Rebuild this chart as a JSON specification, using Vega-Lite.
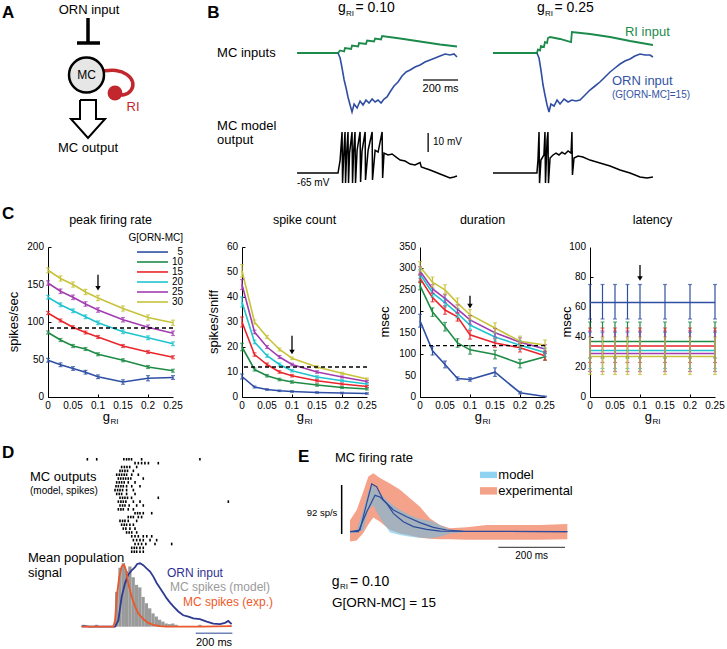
{
"$schema": "https://vega.github.io/schema/vega-lite/v6.json",
"padding": 0,
"background": "white",
"spacing": 0,
"config": {
  "font": "Liberation Sans",
  "view": {"stroke": null},
  "axis": {"domainColor": "black", "domainWidth": 1, "tickColor": "black", "tickSize": 3, "tickWidth": 1, "labelColor": "black", "labelFontSize": 10, "labelPadding": 2, "labelFlush": false, "labelOverlap": false, "grid": false, "titleColor": "black", "titleFontSize": 13, "titleFontWeight": "normal", "titlePadding": 6},
  "text": {"color": "black", "fontSize": 13}
},
"datasets": {
  "one": [{}],
  "xt": [{"v":0,"l":"0"},{"v":0.05,"l":"0.05"},{"v":0.1,"l":"0.1"},{"v":0.15,"l":"0.15"},{"v":0.2,"l":"0.2"},{"v":0.25,"l":"0.25"}],
  "yt1": [{"v":0},{"v":50},{"v":100},{"v":150},{"v":200}],
  "yt2": [{"v":0},{"v":10},{"v":20},{"v":30},{"v":40},{"v":50},{"v":60}],
  "yt3": [{"v":0},{"v":50},{"v":100},{"v":150},{"v":200},{"v":250},{"v":300},{"v":350}],
  "yt4": [{"v":0},{"v":20},{"v":40},{"v":60},{"v":80},{"v":100}],
  "ri_arc": [{"i":0,"x":10.3,"y":7.1},{"i":1,"x":11.6,"y":6.95},{"i":2,"x":12.8,"y":7.4},{"i":3,"x":13.4,"y":8.2},{"i":4,"x":13.2,"y":9.1},{"i":5,"x":12.4,"y":9.6},{"i":6,"x":11.5,"y":9.4}],
  "arrow": [{"i":0,"x":8.0,"y":10.0},{"i":1,"x":9.6,"y":10.0},{"i":2,"x":9.6,"y":11.9},{"i":3,"x":10.5,"y":11.9},{"i":4,"x":8.8,"y":13.8},{"i":5,"x":7.1,"y":11.9},{"i":6,"x":8.0,"y":11.9},{"i":7,"x":8.0,"y":10.0}],
  "b1_ri": [{"t":0,"v":0},{"t":234,"v":0},{"t":246,"v":0.25},{"t":269,"v":0.15},{"t":274,"v":0.5},{"t":309,"v":0.4},{"t":314,"v":0.75},{"t":349,"v":0.65},{"t":354,"v":1.0},{"t":394,"v":0.9},{"t":400,"v":1.25},{"t":440,"v":1.15},{"t":446,"v":1.45},{"t":480,"v":1.35},{"t":486,"v":1.7},{"t":589,"v":1.45},{"t":703,"v":1.15},{"t":817,"v":0.85},{"t":914,"v":0.65}],
  "b1_orn": [{"t":234,"v":0},{"t":246,"v":-0.5},{"t":257,"v":-1.5},{"t":269,"v":-2.7},{"t":280,"v":-3.5},{"t":291,"v":-4.4},{"t":303,"v":-5.2},{"t":314,"v":-5.9},{"t":326,"v":-5.1},{"t":343,"v":-5.5},{"t":360,"v":-4.8},{"t":377,"v":-5.2},{"t":394,"v":-4.7},{"t":411,"v":-5.0},{"t":429,"v":-4.6},{"t":446,"v":-4.9},{"t":463,"v":-4.7},{"t":480,"v":-5.0},{"t":497,"v":-4.6},{"t":514,"v":-4.4},{"t":531,"v":-3.9},{"t":554,"v":-3.3},{"t":577,"v":-2.9},{"t":600,"v":-2.3},{"t":623,"v":-1.9},{"t":646,"v":-1.7},{"t":674,"v":-1.4},{"t":703,"v":-1.2},{"t":731,"v":-0.9},{"t":760,"v":-0.7},{"t":789,"v":-0.5},{"t":817,"v":-0.3},{"t":846,"v":-0.1},{"t":874,"v":-0.2},{"t":897,"v":-0.1},{"t":914,"v":-0.4}],
  "b1_out": [{"t":0,"v":-65},{"t":234,"v":-65},{"t":246,"v":-58.2},{"t":257,"v":-43.4},{"t":260,"v":-70.3},{"t":266,"v":-56.6},{"t":274,"v":-43.4},{"t":277,"v":-70.3},{"t":283,"v":-55},{"t":291,"v":-43.4},{"t":294,"v":-70.3},{"t":300,"v":-54.5},{"t":314,"v":-43.4},{"t":317,"v":-70.3},{"t":323,"v":-54},{"t":331,"v":-43.4},{"t":334,"v":-70.3},{"t":343,"v":-53},{"t":360,"v":-43.4},{"t":363,"v":-69.7},{"t":371,"v":-53.5},{"t":389,"v":-43.4},{"t":391,"v":-68.7},{"t":406,"v":-53},{"t":429,"v":-43.4},{"t":431,"v":-68.7},{"t":446,"v":-53},{"t":463,"v":-54},{"t":486,"v":-43.4},{"t":489,"v":-67.6},{"t":497,"v":-54.5},{"t":520,"v":-55.5},{"t":543,"v":-55},{"t":566,"v":-56.6},{"t":589,"v":-58.2},{"t":617,"v":-58.7},{"t":646,"v":-60.3},{"t":674,"v":-60.8},{"t":703,"v":-59.5},{"t":710,"v":-61.8},{"t":731,"v":-62.5},{"t":760,"v":-63.4},{"t":789,"v":-64.5},{"t":817,"v":-65.5},{"t":846,"v":-66.6},{"t":874,"v":-67.6},{"t":897,"v":-67.1},{"t":914,"v":-66.6}],
  "b2_ri": [{"t":0,"v":0},{"t":251,"v":0},{"t":257,"v":0.35},{"t":269,"v":0.25},{"t":274,"v":0.7},{"t":291,"v":0.6},{"t":297,"v":1.1},{"t":309,"v":1.0},{"t":314,"v":1.5},{"t":326,"v":1.6},{"t":383,"v":1.4},{"t":446,"v":1.1},{"t":451,"v":2.1},{"t":554,"v":1.9},{"t":669,"v":1.6},{"t":783,"v":1.2},{"t":914,"v":0.8}],
  "b2_orn": [{"t":251,"v":0},{"t":263,"v":-0.5},{"t":274,"v":-1.7},{"t":286,"v":-3.2},{"t":297,"v":-4.2},{"t":309,"v":-5.2},{"t":320,"v":-5.9},{"t":331,"v":-5.1},{"t":349,"v":-5.3},{"t":366,"v":-4.7},{"t":383,"v":-5.1},{"t":406,"v":-4.6},{"t":429,"v":-4.9},{"t":451,"v":-4.7},{"t":474,"v":-4.8},{"t":497,"v":-4.7},{"t":526,"v":-4.2},{"t":554,"v":-3.7},{"t":583,"v":-3.3},{"t":611,"v":-2.9},{"t":640,"v":-2.4},{"t":669,"v":-1.9},{"t":697,"v":-1.5},{"t":726,"v":-1.1},{"t":754,"v":-0.8},{"t":783,"v":-0.6},{"t":811,"v":-0.3},{"t":840,"v":-0.1},{"t":869,"v":-0.2},{"t":897,"v":-0.2},{"t":914,"v":-0.4}],
  "b2_out": [{"t":0,"v":-65},{"t":251,"v":-65},{"t":257,"v":-58.2},{"t":263,"v":-43.4},{"t":266,"v":-70.3},{"t":274,"v":-58.2},{"t":291,"v":-55.5},{"t":297,"v":-43.4},{"t":300,"v":-70.3},{"t":309,"v":-47.6},{"t":314,"v":-43.4},{"t":317,"v":-70.3},{"t":326,"v":-57.1},{"t":343,"v":-55.5},{"t":360,"v":-54.5},{"t":377,"v":-55.5},{"t":394,"v":-54},{"t":411,"v":-55},{"t":429,"v":-53.4},{"t":446,"v":-54.5},{"t":451,"v":-43.4},{"t":454,"v":-66},{"t":463,"v":-57.1},{"t":486,"v":-56.1},{"t":514,"v":-56.6},{"t":554,"v":-58.2},{"t":611,"v":-59.7},{"t":669,"v":-61.3},{"t":726,"v":-63.4},{"t":783,"v":-65},{"t":840,"v":-67.1},{"t":880,"v":-67.6},{"t":914,"v":-67.1}],
  "c1": [
    {"G":5,"g":0,"v":49,"lo":46.5,"hi":51.5},{"G":5,"g":0.025,"v":43,"lo":40.5,"hi":45.5},{"G":5,"g":0.05,"v":38,"lo":35.5,"hi":40.5},{"G":5,"g":0.075,"v":33,"lo":30.5,"hi":35.5},{"G":5,"g":0.1,"v":27,"lo":24.5,"hi":29.5},{"G":5,"g":0.15,"v":20,"lo":17,"hi":23},{"G":5,"g":0.2,"v":25,"lo":21.5,"hi":28.5},{"G":5,"g":0.25,"v":26,"lo":23.5,"hi":28.5},
    {"G":10,"g":0,"v":86,"lo":84,"hi":88},{"G":10,"g":0.025,"v":76,"lo":74,"hi":78},{"G":10,"g":0.05,"v":68,"lo":66,"hi":70},{"G":10,"g":0.075,"v":64,"lo":62,"hi":66},{"G":10,"g":0.1,"v":57,"lo":55,"hi":59},{"G":10,"g":0.15,"v":49,"lo":47,"hi":51},{"G":10,"g":0.2,"v":40,"lo":38,"hi":42},{"G":10,"g":0.25,"v":35,"lo":33,"hi":37},
    {"G":15,"g":0,"v":112,"lo":110,"hi":114},{"G":15,"g":0.025,"v":102,"lo":100,"hi":104},{"G":15,"g":0.05,"v":93,"lo":91,"hi":95},{"G":15,"g":0.075,"v":86,"lo":84,"hi":88},{"G":15,"g":0.1,"v":80,"lo":78,"hi":82},{"G":15,"g":0.15,"v":68,"lo":66,"hi":70},{"G":15,"g":0.2,"v":60,"lo":58,"hi":62},{"G":15,"g":0.25,"v":53,"lo":51,"hi":55},
    {"G":20,"g":0,"v":133,"lo":130.5,"hi":135.5},{"G":20,"g":0.025,"v":123,"lo":120.5,"hi":125.5},{"G":20,"g":0.05,"v":115,"lo":112.5,"hi":117.5},{"G":20,"g":0.075,"v":107,"lo":104.5,"hi":109.5},{"G":20,"g":0.1,"v":99,"lo":96.5,"hi":101.5},{"G":20,"g":0.15,"v":87,"lo":84.5,"hi":89.5},{"G":20,"g":0.2,"v":79,"lo":76.5,"hi":81.5},{"G":20,"g":0.25,"v":71,"lo":68.5,"hi":73.5},
    {"G":25,"g":0,"v":152,"lo":149,"hi":155},{"G":25,"g":0.025,"v":141,"lo":138,"hi":144},{"G":25,"g":0.05,"v":133,"lo":130,"hi":136},{"G":25,"g":0.075,"v":124,"lo":121,"hi":127},{"G":25,"g":0.1,"v":116,"lo":113,"hi":119},{"G":25,"g":0.15,"v":103,"lo":100,"hi":106},{"G":25,"g":0.2,"v":93,"lo":90,"hi":96},{"G":25,"g":0.25,"v":85,"lo":82,"hi":88},
    {"G":30,"g":0,"v":169,"lo":165.5,"hi":172.5},{"G":30,"g":0.025,"v":158,"lo":154.5,"hi":161.5},{"G":30,"g":0.05,"v":150,"lo":146.5,"hi":153.5},{"G":30,"g":0.075,"v":140,"lo":136.5,"hi":143.5},{"G":30,"g":0.1,"v":132,"lo":128.5,"hi":135.5},{"G":30,"g":0.15,"v":118,"lo":114.5,"hi":121.5},{"G":30,"g":0.2,"v":106,"lo":102.5,"hi":109.5},{"G":30,"g":0.25,"v":99,"lo":95.5,"hi":102.5}
  ],
  "c2": [
    {"G":5,"g":0,"v":8.2,"lo":7.2,"hi":9.2},{"G":5,"g":0.025,"v":4,"lo":3.6,"hi":4.4},{"G":5,"g":0.05,"v":3,"lo":2.7,"hi":3.3},{"G":5,"g":0.075,"v":2.5,"lo":2.2,"hi":2.8},{"G":5,"g":0.1,"v":2.2,"lo":1.9,"hi":2.5},{"G":5,"g":0.15,"v":1.8,"lo":1.5,"hi":2.1},{"G":5,"g":0.2,"v":1.6,"lo":1.3,"hi":1.9},{"G":5,"g":0.25,"v":1.4,"lo":1.1,"hi":1.7},
    {"G":10,"g":0,"v":20,"lo":18.5,"hi":21.5},{"G":10,"g":0.025,"v":11,"lo":10.4,"hi":11.6},{"G":10,"g":0.05,"v":8.5,"lo":8,"hi":9},{"G":10,"g":0.075,"v":7,"lo":6.5,"hi":7.5},{"G":10,"g":0.1,"v":6,"lo":5.5,"hi":6.5},{"G":10,"g":0.15,"v":4.8,"lo":4.3,"hi":5.3},{"G":10,"g":0.2,"v":3.8,"lo":3.4,"hi":4.2},{"G":10,"g":0.25,"v":3.2,"lo":2.8,"hi":3.6},
    {"G":15,"g":0,"v":30,"lo":28,"hi":32},{"G":15,"g":0.025,"v":17,"lo":16.3,"hi":17.7},{"G":15,"g":0.05,"v":13,"lo":12.4,"hi":13.6},{"G":15,"g":0.075,"v":10,"lo":9.5,"hi":10.5},{"G":15,"g":0.1,"v":8.5,"lo":8,"hi":9},{"G":15,"g":0.15,"v":6.5,"lo":6,"hi":7},{"G":15,"g":0.2,"v":5.2,"lo":4.8,"hi":5.6},{"G":15,"g":0.25,"v":4.2,"lo":3.8,"hi":4.6},
    {"G":20,"g":0,"v":38,"lo":36,"hi":40},{"G":20,"g":0.025,"v":22,"lo":21.3,"hi":22.7},{"G":20,"g":0.05,"v":16.5,"lo":15.9,"hi":17.1},{"G":20,"g":0.075,"v":13,"lo":12.4,"hi":13.6},{"G":20,"g":0.1,"v":10.5,"lo":10,"hi":11},{"G":20,"g":0.15,"v":8,"lo":7.5,"hi":8.5},{"G":20,"g":0.2,"v":6.5,"lo":6.1,"hi":6.9},{"G":20,"g":0.25,"v":5.2,"lo":4.8,"hi":5.6},
    {"G":25,"g":0,"v":45,"lo":43,"hi":47},{"G":25,"g":0.025,"v":26,"lo":25.3,"hi":26.7},{"G":25,"g":0.05,"v":20,"lo":19.4,"hi":20.6},{"G":25,"g":0.075,"v":16,"lo":15.4,"hi":16.6},{"G":25,"g":0.1,"v":13,"lo":12.5,"hi":13.5},{"G":25,"g":0.15,"v":10,"lo":9.5,"hi":10.5},{"G":25,"g":0.2,"v":8,"lo":7.6,"hi":8.4},{"G":25,"g":0.25,"v":6.2,"lo":5.8,"hi":6.6},
    {"G":30,"g":0,"v":50.5,"lo":48,"hi":53},{"G":30,"g":0.025,"v":30,"lo":29.2,"hi":30.8},{"G":30,"g":0.05,"v":24,"lo":23.4,"hi":24.6},{"G":30,"g":0.075,"v":19,"lo":18.4,"hi":19.6},{"G":30,"g":0.1,"v":15.5,"lo":15,"hi":16},{"G":30,"g":0.15,"v":12,"lo":11.5,"hi":12.5},{"G":30,"g":0.2,"v":9.5,"lo":9.1,"hi":9.9},{"G":30,"g":0.25,"v":7.2,"lo":6.8,"hi":7.6}
  ],
  "c3": [
    {"G":5,"g":0,"v":178,"lo":163,"hi":193},{"G":5,"g":0.025,"v":108,"lo":98,"hi":118},{"G":5,"g":0.05,"v":76,"lo":68,"hi":84},{"G":5,"g":0.075,"v":43,"lo":39,"hi":47},{"G":5,"g":0.1,"v":41,"lo":37,"hi":45},{"G":5,"g":0.15,"v":58,"lo":48,"hi":68},{"G":5,"g":0.2,"v":10,"lo":7,"hi":13},{"G":5,"g":0.25,"v":1,"lo":0,"hi":2},
    {"G":10,"g":0,"v":260,"lo":250,"hi":270},{"G":10,"g":0.025,"v":198,"lo":188,"hi":208},{"G":10,"g":0.05,"v":164,"lo":154,"hi":174},{"G":10,"g":0.075,"v":126,"lo":116,"hi":136},{"G":10,"g":0.1,"v":110,"lo":100,"hi":120},{"G":10,"g":0.15,"v":99,"lo":89,"hi":109},{"G":10,"g":0.2,"v":78,"lo":68,"hi":88},{"G":10,"g":0.25,"v":94,"lo":86,"hi":102},
    {"G":15,"g":0,"v":277,"lo":267,"hi":287},{"G":15,"g":0.025,"v":232,"lo":222,"hi":242},{"G":15,"g":0.05,"v":203,"lo":193,"hi":213},{"G":15,"g":0.075,"v":187,"lo":177,"hi":197},{"G":15,"g":0.1,"v":145,"lo":135,"hi":155},{"G":15,"g":0.15,"v":126,"lo":116,"hi":136},{"G":15,"g":0.2,"v":115,"lo":105,"hi":125},{"G":15,"g":0.25,"v":96,"lo":86,"hi":106},
    {"G":20,"g":0,"v":287,"lo":277,"hi":297},{"G":20,"g":0.025,"v":243,"lo":233,"hi":253},{"G":20,"g":0.05,"v":220,"lo":210,"hi":230},{"G":20,"g":0.075,"v":195,"lo":185,"hi":205},{"G":20,"g":0.1,"v":168,"lo":158,"hi":178},{"G":20,"g":0.15,"v":140,"lo":130,"hi":150},{"G":20,"g":0.2,"v":121,"lo":111,"hi":131},{"G":20,"g":0.25,"v":104,"lo":94,"hi":114},
    {"G":25,"g":0,"v":294,"lo":284,"hi":304},{"G":25,"g":0.025,"v":252,"lo":242,"hi":262},{"G":25,"g":0.05,"v":230,"lo":220,"hi":240},{"G":25,"g":0.075,"v":205,"lo":195,"hi":215},{"G":25,"g":0.1,"v":180,"lo":170,"hi":190},{"G":25,"g":0.15,"v":150,"lo":140,"hi":160},{"G":25,"g":0.2,"v":128,"lo":118,"hi":138},{"G":25,"g":0.25,"v":112,"lo":102,"hi":122},
    {"G":30,"g":0,"v":304,"lo":292,"hi":316},{"G":30,"g":0.025,"v":268,"lo":256,"hi":280},{"G":30,"g":0.05,"v":250,"lo":238,"hi":262},{"G":30,"g":0.075,"v":219,"lo":207,"hi":231},{"G":30,"g":0.1,"v":192,"lo":180,"hi":204},{"G":30,"g":0.15,"v":161,"lo":149,"hi":173},{"G":30,"g":0.2,"v":130,"lo":118,"hi":142},{"G":30,"g":0.25,"v":121,"lo":109,"hi":133}
  ],
  "c4": [
    {"G":5,"g":0,"v":63,"lo":52,"hi":75},{"G":5,"g":0.025,"v":63,"lo":52,"hi":75},{"G":5,"g":0.05,"v":63,"lo":52,"hi":75},{"G":5,"g":0.075,"v":63,"lo":52,"hi":75},{"G":5,"g":0.1,"v":63,"lo":52,"hi":75},{"G":5,"g":0.15,"v":63,"lo":52,"hi":75},{"G":5,"g":0.2,"v":63,"lo":52,"hi":75},{"G":5,"g":0.25,"v":63,"lo":52,"hi":75},
    {"G":10,"g":0,"v":37,"lo":26,"hi":50},{"G":10,"g":0.025,"v":37,"lo":26,"hi":50},{"G":10,"g":0.05,"v":37,"lo":26,"hi":50},{"G":10,"g":0.075,"v":37,"lo":26,"hi":50},{"G":10,"g":0.1,"v":37,"lo":26,"hi":50},{"G":10,"g":0.15,"v":37,"lo":26,"hi":50},{"G":10,"g":0.2,"v":37,"lo":26,"hi":50},{"G":10,"g":0.25,"v":37,"lo":26,"hi":50},
    {"G":15,"g":0,"v":34,"lo":23,"hi":46},{"G":15,"g":0.025,"v":34,"lo":23,"hi":46},{"G":15,"g":0.05,"v":34,"lo":23,"hi":46},{"G":15,"g":0.075,"v":34,"lo":23,"hi":46},{"G":15,"g":0.1,"v":34,"lo":23,"hi":46},{"G":15,"g":0.15,"v":34,"lo":23,"hi":46},{"G":15,"g":0.2,"v":34,"lo":23,"hi":46},{"G":15,"g":0.25,"v":34,"lo":23,"hi":46},
    {"G":20,"g":0,"v":31,"lo":19,"hi":43},{"G":20,"g":0.025,"v":31,"lo":19,"hi":43},{"G":20,"g":0.05,"v":31,"lo":19,"hi":43},{"G":20,"g":0.075,"v":31,"lo":19,"hi":43},{"G":20,"g":0.1,"v":31,"lo":19,"hi":43},{"G":20,"g":0.15,"v":31,"lo":19,"hi":43},{"G":20,"g":0.2,"v":31,"lo":19,"hi":43},{"G":20,"g":0.25,"v":31,"lo":19,"hi":43},
    {"G":25,"g":0,"v":29,"lo":17,"hi":44},{"G":25,"g":0.025,"v":29,"lo":17,"hi":44},{"G":25,"g":0.05,"v":29,"lo":17,"hi":44},{"G":25,"g":0.075,"v":29,"lo":17,"hi":44},{"G":25,"g":0.1,"v":29,"lo":17,"hi":44},{"G":25,"g":0.15,"v":29,"lo":17,"hi":44},{"G":25,"g":0.2,"v":29,"lo":17,"hi":44},{"G":25,"g":0.25,"v":29,"lo":17,"hi":44},
    {"G":30,"g":0,"v":27,"lo":15,"hi":40},{"G":30,"g":0.025,"v":27,"lo":15,"hi":40},{"G":30,"g":0.05,"v":27,"lo":15,"hi":40},{"G":30,"g":0.075,"v":27,"lo":15,"hi":40},{"G":30,"g":0.1,"v":27,"lo":15,"hi":40},{"G":30,"g":0.15,"v":27,"lo":15,"hi":40},{"G":30,"g":0.2,"v":27,"lo":15,"hi":40},{"G":30,"g":0.25,"v":27,"lo":15,"hi":40}
  ],
  "raster": [
    {"trial":1,"t":31},{"trial":1,"t":82},{"trial":1,"t":230},{"trial":1,"t":245},{"trial":1,"t":258},{"trial":1,"t":272},{"trial":1,"t":327},{"trial":1,"t":645},
    {"trial":2,"t":291},{"trial":2,"t":309},{"trial":2,"t":327},{"trial":2,"t":345},{"trial":2,"t":364},{"trial":2,"t":418},
    {"trial":3,"t":218},{"trial":3,"t":233},{"trial":3,"t":247},{"trial":3,"t":262},{"trial":3,"t":300},
    {"trial":4,"t":209},{"trial":4,"t":222},{"trial":4,"t":236},{"trial":4,"t":250},{"trial":4,"t":282},
    {"trial":5,"t":191},{"trial":5,"t":205},{"trial":5,"t":218},{"trial":5,"t":232},{"trial":5,"t":245},{"trial":5,"t":273},{"trial":5,"t":309},
    {"trial":6,"t":200},{"trial":6,"t":213},{"trial":6,"t":227},{"trial":6,"t":240},{"trial":6,"t":254},{"trial":6,"t":268},{"trial":6,"t":336},
    {"trial":7,"t":191},{"trial":7,"t":205},{"trial":7,"t":218},{"trial":7,"t":232},{"trial":7,"t":254},{"trial":7,"t":291},
    {"trial":8,"t":187},{"trial":8,"t":200},{"trial":8,"t":214},{"trial":8,"t":227},{"trial":8,"t":245},{"trial":8,"t":273},{"trial":8,"t":318},
    {"trial":9,"t":182},{"trial":9,"t":196},{"trial":9,"t":209},{"trial":9,"t":223},{"trial":9,"t":245},{"trial":9,"t":282},
    {"trial":10,"t":191},{"trial":10,"t":205},{"trial":10,"t":218},{"trial":10,"t":245},{"trial":10,"t":291},
    {"trial":11,"t":209},{"trial":11,"t":223},{"trial":11,"t":236},{"trial":11,"t":250},{"trial":11,"t":272},{"trial":11,"t":418},
    {"trial":12,"t":200},{"trial":12,"t":214},{"trial":12,"t":227},{"trial":12,"t":241},{"trial":12,"t":282},{"trial":12,"t":318},{"trial":12,"t":800},
    {"trial":13,"t":209},{"trial":13,"t":223},{"trial":13,"t":236},{"trial":13,"t":259},{"trial":13,"t":300},{"trial":13,"t":336},
    {"trial":14,"t":200},{"trial":14,"t":214},{"trial":14,"t":227},{"trial":14,"t":254},{"trial":14,"t":282},
    {"trial":15,"t":291},{"trial":15,"t":305},{"trial":15,"t":318},{"trial":15,"t":336},{"trial":15,"t":382},
    {"trial":16,"t":254},{"trial":16,"t":268},{"trial":16,"t":282},{"trial":16,"t":309},{"trial":16,"t":327},
    {"trial":17,"t":209},{"trial":17,"t":223},{"trial":17,"t":236},{"trial":17,"t":254},{"trial":17,"t":300},
    {"trial":18,"t":218},{"trial":18,"t":232},{"trial":18,"t":245},{"trial":18,"t":263},{"trial":18,"t":282},
    {"trial":19,"t":227},{"trial":19,"t":241},{"trial":19,"t":263},{"trial":19,"t":291},
    {"trial":20,"t":245},{"trial":20,"t":259},{"trial":20,"t":273},{"trial":20,"t":300},
    {"trial":21,"t":273},{"trial":21,"t":291},{"trial":21,"t":309},{"trial":21,"t":336},{"trial":21,"t":355},{"trial":21,"t":382},
    {"trial":22,"t":282},{"trial":22,"t":300},{"trial":22,"t":318},{"trial":22,"t":336},{"trial":22,"t":373},{"trial":22,"t":409},
    {"trial":23,"t":291},{"trial":23,"t":309},{"trial":23,"t":327},{"trial":23,"t":350},{"trial":23,"t":400},{"trial":23,"t":491},
    {"trial":24,"t":273},{"trial":24,"t":287},{"trial":24,"t":300},{"trial":24,"t":318},{"trial":24,"t":336},
    {"trial":25,"t":273},{"trial":25,"t":287},{"trial":25,"t":300},{"trial":25,"t":318},{"trial":25,"t":336}
  ],
  "hist": [{"t0":0,"t1":18,"a":0.03},{"t0":72,"t1":90,"a":0.03},{"t0":182,"t1":200,"a":0.55},{"t0":200,"t1":218,"a":0.93},{"t0":218,"t1":236,"a":1.0},{"t0":236,"t1":254,"a":0.88},{"t0":254,"t1":272,"a":0.95},{"t0":272,"t1":290,"a":0.78},{"t0":290,"t1":308,"a":0.66},{"t0":308,"t1":326,"a":0.62},{"t0":326,"t1":344,"a":0.47},{"t0":344,"t1":362,"a":0.37},{"t0":362,"t1":380,"a":0.29},{"t0":380,"t1":398,"a":0.21},{"t0":398,"t1":416,"a":0.16},{"t0":416,"t1":434,"a":0.11},{"t0":434,"t1":452,"a":0.08},{"t0":452,"t1":470,"a":0.05},{"t0":470,"t1":488,"a":0.04},{"t0":488,"t1":506,"a":0.05},{"t0":506,"t1":524,"a":0.03},{"t0":636,"t1":654,"a":0.03},{"t0":800,"t1":818,"a":0.02}],
  "d_orn": [{"t":0,"a":0},{"t":18,"a":0.01},{"t":40,"a":0},{"t":182,"a":0},{"t":200,"a":0.1},{"t":218,"a":0.47},{"t":236,"a":0.68},{"t":254,"a":0.82},{"t":273,"a":0.89},{"t":291,"a":0.94},{"t":303,"a":0.99},{"t":318,"a":1.0},{"t":336,"a":0.97},{"t":354,"a":0.92},{"t":373,"a":0.87},{"t":391,"a":0.79},{"t":409,"a":0.69},{"t":427,"a":0.61},{"t":445,"a":0.53},{"t":463,"a":0.45},{"t":482,"a":0.38},{"t":500,"a":0.32},{"t":527,"a":0.24},{"t":554,"a":0.18},{"t":582,"a":0.16},{"t":609,"a":0.13},{"t":645,"a":0.12},{"t":682,"a":0.08},{"t":718,"a":0.05},{"t":754,"a":0.04},{"t":782,"a":0.06},{"t":800,"a":0.09},{"t":818,"a":0.04}],
  "d_exp": [{"t":0,"a":0},{"t":173,"a":0},{"t":182,"a":0.1},{"t":191,"a":0.47},{"t":205,"a":0.79},{"t":218,"a":0.95},{"t":231,"a":0.98},{"t":242,"a":0.89},{"t":254,"a":0.68},{"t":273,"a":0.47},{"t":291,"a":0.32},{"t":309,"a":0.21},{"t":336,"a":0.12},{"t":363,"a":0.06},{"t":391,"a":0.03},{"t":427,"a":0.01},{"t":463,"a":0},{"t":645,"a":0},{"t":818,"a":0.01}],
  "e_exp": [{"t":0,"lo":-14,"hi":26},{"t":20,"lo":-12,"hi":45},{"t":40,"lo":2,"hi":80},{"t":55,"lo":18,"hi":108},{"t":70,"lo":31,"hi":114},{"t":90,"lo":23,"hi":105},{"t":120,"lo":7.5,"hi":95},{"t":150,"lo":1,"hi":83},{"t":180,"lo":-3,"hi":67},{"t":210,"lo":-7,"hi":51},{"t":240,"lo":-9,"hi":29},{"t":270,"lo":-10,"hi":17},{"t":300,"lo":-10,"hi":11},{"t":350,"lo":-11,"hi":12.5},{"t":410,"lo":-11,"hi":17},{"t":490,"lo":-11,"hi":17},{"t":570,"lo":-11,"hi":17},{"t":652,"lo":-10,"hi":19}],
  "e_model": [{"t":0,"lo":1.3,"hi":4.4},{"t":20,"lo":3,"hi":7.5},{"t":40,"lo":7.5,"hi":45},{"t":55,"lo":45,"hi":80},{"t":70,"lo":54,"hi":92},{"t":90,"lo":30,"hi":76},{"t":120,"lo":3,"hi":58},{"t":150,"lo":-2,"hi":45},{"t":180,"lo":-5,"hi":35},{"t":210,"lo":-7,"hi":28},{"t":240,"lo":-8,"hi":25},{"t":270,"lo":-5,"hi":17},{"t":300,"lo":1,"hi":8},{"t":350,"lo":3.8,"hi":5},{"t":410,"lo":3.8,"hi":5},{"t":490,"lo":3.8,"hi":5},{"t":570,"lo":3.8,"hi":5},{"t":652,"lo":3.8,"hi":5}],
  "e_lines": [{"s":"a","t":0,"r":4.4},{"s":"a","t":30,"r":7.5},{"s":"a","t":50,"r":57.6},{"s":"a","t":65,"r":93.9},{"s":"a","t":80,"r":88.8},{"s":"a","t":100,"r":63.8},{"s":"a","t":130,"r":45},{"s":"a","t":170,"r":32.5},{"s":"a","t":210,"r":21.3},{"s":"a","t":250,"r":12.5},{"s":"a","t":290,"r":7.5},{"s":"a","t":340,"r":5},{"s":"a","t":652,"r":4.4},
    {"s":"b","t":0,"r":4.4},{"s":"b","t":25,"r":4.4},{"s":"b","t":50,"r":41.3},{"s":"b","t":75,"r":72.6},{"s":"b","t":90,"r":69.4},{"s":"b","t":110,"r":57.6},{"s":"b","t":130,"r":38.8},{"s":"b","t":160,"r":23.1},{"s":"b","t":190,"r":13.8},{"s":"b","t":230,"r":8.8},{"s":"b","t":270,"r":5.6},{"s":"b","t":652,"r":4.4}]
},
"vconcat": [
 {"hconcat": [
  {"width": 190, "height": 200, "data": {"name": "one"}, "layer": [
    {"mark": {"type": "rect", "opacity": 0}, "encoding": {"x": {"datum": 0, "scale": {"domain": [0, 19], "nice": false, "zero": false}, "axis": null}, "x2": {"datum": 19}, "y": {"datum": 0, "scale": {"domain": [0, 20], "reverse": true, "nice": false, "zero": false}, "axis": null}, "y2": {"datum": 20}}},
    {"mark": {"type": "text", "text": "A", "fontSize": 17, "fontWeight": "bold", "align": "left"}, "encoding": {"x": {"datum": 0.2, "axis": null}, "y": {"datum": 1.3, "axis": null}}},
    {"mark": {"type": "text", "text": "ORN input"}, "encoding": {"x": {"datum": 8.9, "axis": null}, "y": {"datum": 1.0, "axis": null}}},
    {"mark": {"type": "rule", "strokeWidth": 3.5, "color": "black"}, "encoding": {"x": {"datum": 8.8, "axis": null}, "y": {"datum": 1.8, "axis": null}, "y2": {"datum": 4.3}}},
    {"mark": {"type": "rule", "strokeWidth": 3.5, "color": "black"}, "encoding": {"x": {"datum": 7.7, "axis": null}, "x2": {"datum": 10.0}, "y": {"datum": 4.3, "axis": null}}},
    {"data": {"name": "ri_arc"}, "mark": {"type": "line", "color": "#c1272d", "strokeWidth": 3.5, "interpolate": "basis"}, "encoding": {"x": {"field": "x", "type": "quantitative", "scale": {"domain": [0, 19], "nice": false, "zero": false}, "axis": null}, "y": {"field": "y", "type": "quantitative", "scale": {"domain": [0, 20], "reverse": true, "nice": false, "zero": false}, "axis": null}, "order": {"field": "i"}}},
    {"mark": {"type": "point", "shape": "circle", "size": 1225, "filled": true, "fill": "#e6e6e6", "stroke": "black", "strokeWidth": 2.5, "opacity": 1}, "encoding": {"x": {"datum": 8.65, "axis": null}, "y": {"datum": 7.5, "axis": null}}},
    {"mark": {"type": "text", "text": "MC", "fontSize": 12}, "encoding": {"x": {"datum": 8.65, "axis": null}, "y": {"datum": 7.5, "axis": null}}},
    {"mark": {"type": "point", "shape": "circle", "size": 220, "filled": true, "color": "#c1272d", "opacity": 1}, "encoding": {"x": {"datum": 11.5, "axis": null}, "y": {"datum": 9.3, "axis": null}}},
    {"mark": {"type": "text", "text": "RI", "color": "#c1272d"}, "encoding": {"x": {"datum": 13.3, "axis": null}, "y": {"datum": 10.7, "axis": null}}},
    {"data": {"name": "arrow"}, "mark": {"type": "line", "color": "black", "strokeWidth": 2, "strokeJoin": "miter"}, "encoding": {"x": {"field": "x", "type": "quantitative", "scale": {"domain": [0, 19], "nice": false, "zero": false}, "axis": null}, "y": {"field": "y", "type": "quantitative", "scale": {"domain": [0, 20], "reverse": true, "nice": false, "zero": false}, "axis": null}, "order": {"field": "i"}}},
    {"mark": {"type": "text", "text": "MC output"}, "encoding": {"x": {"datum": 8.8, "axis": null}, "y": {"datum": 14.8, "axis": null}}}
  ]},
  {"width": 281, "height": 200, "data": {"name": "one"}, "resolve": {"scale": {"y": "independent"}}, "layer": [
    {"layer": [
      {"data": {"name": "b1_ri"}, "mark": {"type": "line", "color": "#1b8a4b", "strokeWidth": 1.8}, "encoding": {"x": {"field": "t", "type": "quantitative", "scale": {"domain": [-612, 994], "nice": false, "zero": false}, "axis": null}, "y": {"field": "v", "type": "quantitative", "scale": {"domain": [-14.7, 5.3], "nice": false, "zero": false}, "axis": null}}},
      {"data": {"name": "b1_orn"}, "mark": {"type": "line", "color": "#2f4ea3", "strokeWidth": 1.6}, "encoding": {"x": {"field": "t", "type": "quantitative", "scale": {"domain": [-612, 994], "nice": false, "zero": false}, "axis": null}, "y": {"field": "v", "type": "quantitative", "scale": {"domain": [-14.7, 5.3], "nice": false, "zero": false}, "axis": null}}},
      {"mark": {"type": "text", "text": "B", "fontSize": 17, "fontWeight": "bold", "align": "left"}, "encoding": {"x": {"datum": -514, "axis": null}, "y": {"datum": 4.05, "axis": null}}},
      {"mark": {"type": "text", "text": "g", "fontSize": 14, "align": "left", "baseline": "alphabetic"}, "encoding": {"x": {"datum": 234, "axis": null}, "y": {"datum": 4.13, "axis": null}}},
      {"mark": {"type": "text", "text": "RI", "fontSize": 8, "align": "left", "baseline": "alphabetic"}, "encoding": {"x": {"datum": 280, "axis": null}, "y": {"datum": 3.7, "axis": null}}},
      {"mark": {"type": "text", "text": "= 0.10", "fontSize": 14, "align": "left", "baseline": "alphabetic"}, "encoding": {"x": {"datum": 334, "axis": null}, "y": {"datum": 4.13, "axis": null}}},
      {"mark": {"type": "text", "text": "MC inputs", "align": "left"}, "encoding": {"x": {"datum": -457, "axis": null}, "y": {"datum": 0, "axis": null}}},
      {"mark": {"type": "rule", "color": "#333333", "strokeWidth": 1.5}, "encoding": {"x": {"datum": 720, "axis": null}, "x2": {"datum": 920}, "y": {"datum": -2.7, "axis": null}}},
      {"mark": {"type": "text", "text": "200 ms", "fontSize": 11}, "encoding": {"x": {"datum": 820, "axis": null}, "y": {"datum": -3.6, "axis": null}}}
    ]},
    {"layer": [
      {"data": {"name": "b1_out"}, "mark": {"type": "line", "color": "black", "strokeWidth": 1.5}, "encoding": {"x": {"field": "t", "type": "quantitative", "scale": {"domain": [-612, 994], "nice": false, "zero": false}, "axis": null}, "y": {"field": "v", "type": "quantitative", "scale": {"domain": [-79.2, 26.05], "nice": false, "zero": false}, "axis": null}}},
      {"mark": {"type": "text", "text": "MC model", "align": "left"}, "encoding": {"x": {"datum": -457, "axis": null}, "y": {"datum": -40.3, "axis": null}}},
      {"mark": {"type": "text", "text": "output", "align": "left"}, "encoding": {"x": {"datum": -457, "axis": null}, "y": {"datum": -47.6, "axis": null}}},
      {"mark": {"type": "rule", "color": "black", "strokeWidth": 1.3}, "encoding": {"x": {"datum": 749, "axis": null}, "y": {"datum": -54, "axis": null}, "y2": {"datum": -44}}},
      {"mark": {"type": "text", "text": "10 mV", "fontSize": 10, "align": "left"}, "encoding": {"x": {"datum": 777, "axis": null}, "y": {"datum": -48.5, "axis": null}}},
      {"mark": {"type": "text", "text": "-65 mV", "fontSize": 10, "align": "left"}, "encoding": {"x": {"datum": 0, "axis": null}, "y": {"datum": -70.3, "axis": null}}}
    ]}
  ]},
  {"width": 250, "height": 200, "data": {"name": "one"}, "resolve": {"scale": {"y": "independent"}}, "layer": [
    {"layer": [
      {"data": {"name": "b2_ri"}, "mark": {"type": "line", "color": "#1b8a4b", "strokeWidth": 1.8}, "encoding": {"x": {"field": "t", "type": "quantitative", "scale": {"domain": [-125.7, 1302.9], "nice": false, "zero": false}, "axis": null}, "y": {"field": "v", "type": "quantitative", "scale": {"domain": [-14.7, 5.3], "nice": false, "zero": false}, "axis": null}}},
      {"data": {"name": "b2_orn"}, "mark": {"type": "line", "color": "#2f4ea3", "strokeWidth": 1.6}, "encoding": {"x": {"field": "t", "type": "quantitative", "scale": {"domain": [-125.7, 1302.9], "nice": false, "zero": false}, "axis": null}, "y": {"field": "v", "type": "quantitative", "scale": {"domain": [-14.7, 5.3], "nice": false, "zero": false}, "axis": null}}},
      {"mark": {"type": "text", "text": "g", "fontSize": 14, "align": "left", "baseline": "alphabetic"}, "encoding": {"x": {"datum": 251, "axis": null}, "y": {"datum": 4.13, "axis": null}}},
      {"mark": {"type": "text", "text": "RI", "fontSize": 8, "align": "left", "baseline": "alphabetic"}, "encoding": {"x": {"datum": 297, "axis": null}, "y": {"datum": 3.7, "axis": null}}},
      {"mark": {"type": "text", "text": "= 0.25", "fontSize": 14, "align": "left", "baseline": "alphabetic"}, "encoding": {"x": {"datum": 351, "axis": null}, "y": {"datum": 4.13, "axis": null}}},
      {"mark": {"type": "text", "text": "RI input", "align": "left", "color": "#1b8a4b"}, "encoding": {"x": {"datum": 754, "axis": null}, "y": {"datum": 2.1, "axis": null}}},
      {"mark": {"type": "text", "text": "ORN input", "align": "left", "color": "#3453a4"}, "encoding": {"x": {"datum": 680, "axis": null}, "y": {"datum": -2.8, "axis": null}}},
      {"mark": {"type": "text", "text": "(G[ORN-MC]=15)", "fontSize": 10, "align": "left", "color": "#3453a4"}, "encoding": {"x": {"datum": 680, "axis": null}, "y": {"datum": -4.2, "axis": null}}}
    ]},
    {"layer": [
      {"data": {"name": "b2_out"}, "mark": {"type": "line", "color": "black", "strokeWidth": 1.5}, "encoding": {"x": {"field": "t", "type": "quantitative", "scale": {"domain": [-125.7, 1302.9], "nice": false, "zero": false}, "axis": null}, "y": {"field": "v", "type": "quantitative", "scale": {"domain": [-79.2, 26.05], "nice": false, "zero": false}, "axis": null}}}
    ]}
  ]}
 ], "spacing": 0, "bounds": "flush"},
 {"hconcat": [
  {"width": 48, "height": 150, "data": {"name": "one"}, "mark": {"type": "rect", "opacity": 0}, "encoding": {"x": {"datum": 0, "scale": {"domain": [0, 48], "nice": false, "zero": false}, "axis": null}, "x2": {"datum": 48}, "y": {"datum": -47, "scale": {"domain": [0, 150], "reverse": true, "nice": false, "zero": false}, "axis": null}, "y2": {"datum": 188}}},
  {"width": 125, "height": 150, "data": {"name": "one"}, "layer": [
    {"data": {"name": "c1"}, "mark": {"type": "line", "strokeWidth": 1.6}, "encoding": {"x": {"field": "g", "type": "quantitative", "title": null, "scale": {"domain": [0, 0.25], "nice": false, "zero": false}, "axis": {"values": [0, 0.05, 0.1, 0.15, 0.2, 0.25], "labels": false, "tickSize": -3}}, "y": {"field": "v", "type": "quantitative", "title": null, "scale": {"domain": [0, 200], "nice": false, "zero": false}, "axis": {"values": [0, 50, 100, 150, 200], "labels": false, "tickSize": -3}}, "color": {"field": "G", "type": "ordinal", "scale": {"domain": [5, 10, 15, 20, 25, 30], "range": ["#2e4fa3", "#1e8b45", "#e8262c", "#20c4ce", "#a23cb0", "#c7c33b"]}, "legend": null}}},
    {"data": {"name": "c1"}, "mark": {"type": "errorbar", "ticks": {"size": 4}, "thickness": 1.2}, "encoding": {"x": {"field": "g", "type": "quantitative", "title": null}, "y": {"field": "lo", "type": "quantitative", "title": null}, "y2": {"field": "hi"}, "color": {"field": "G", "type": "ordinal", "legend": null}}},
    {"data": {"name": "xt"}, "mark": {"type": "text", "fontSize": 10, "dy": 9}, "encoding": {"x": {"field": "v", "type": "quantitative", "title": null}, "y": {"datum": 0}, "text": {"field": "l"}}},
    {"data": {"name": "yt1"}, "mark": {"type": "text", "fontSize": 10, "align": "right", "dx": -4}, "encoding": {"x": {"datum": 0}, "y": {"field": "v", "type": "quantitative", "title": null}, "text": {"field": "v", "type": "quantitative"}}},
    {"mark": {"type": "text", "text": "spikes/sec", "fontSize": 13, "angle": 270}, "encoding": {"x": {"datum": -0.069}, "y": {"datum": 100}}},
    {"mark": {"type": "rule", "color": "black", "strokeWidth": 1.3, "strokeDash": [4, 3]}, "encoding": {"y": {"datum": 92}}},
    {"mark": {"type": "rule", "color": "black", "strokeWidth": 1.3}, "encoding": {"x": {"datum": 0.1}, "y": {"datum": 163}, "y2": {"datum": 146}}},
    {"mark": {"type": "point", "shape": "triangle-down", "size": 30, "filled": true, "color": "black", "opacity": 1}, "encoding": {"x": {"datum": 0.1}, "y": {"datum": 145}}},
    {"mark": {"type": "text", "text": "peak firing rate", "fontSize": 12.5, "dy": -27}, "encoding": {"x": {"datum": 0.125}, "y": {"datum": 200}}},
    {"mark": {"type": "text", "text": "C", "fontSize": 17, "fontWeight": "bold", "align": "left", "dx": -46, "dy": -33}, "encoding": {"x": {"datum": 0}, "y": {"datum": 200}}},
    {"mark": {"type": "text", "text": "g", "fontSize": 13, "align": "right", "baseline": "alphabetic", "dy": 24}, "encoding": {"x": {"datum": 0.124}, "y": {"datum": 0}}},
    {"mark": {"type": "text", "text": "RI", "fontSize": 8, "align": "left", "baseline": "alphabetic", "dx": 0.5, "dy": 27}, "encoding": {"x": {"datum": 0.124}, "y": {"datum": 0}}},
    {"mark": {"type": "text", "text": "G[ORN-MC]", "fontSize": 10, "align": "right", "dx": 10, "dy": -9}, "encoding": {"x": {"datum": 0.25}, "y": {"datum": 200}}},
    {"mark": {"type": "rule", "color": "#2e4fa3", "strokeWidth": 1.6}, "encoding": {"x": {"datum": 0.178}, "x2": {"datum": 0.24}, "y": {"datum": 193.3}}},
    {"mark": {"type": "rule", "color": "#1e8b45", "strokeWidth": 1.6}, "encoding": {"x": {"datum": 0.178}, "x2": {"datum": 0.24}, "y": {"datum": 180}}},
    {"mark": {"type": "rule", "color": "#e8262c", "strokeWidth": 1.6}, "encoding": {"x": {"datum": 0.178}, "x2": {"datum": 0.24}, "y": {"datum": 166.7}}},
    {"mark": {"type": "rule", "color": "#20c4ce", "strokeWidth": 1.6}, "encoding": {"x": {"datum": 0.178}, "x2": {"datum": 0.24}, "y": {"datum": 153.3}}},
    {"mark": {"type": "rule", "color": "#a23cb0", "strokeWidth": 1.6}, "encoding": {"x": {"datum": 0.178}, "x2": {"datum": 0.24}, "y": {"datum": 140}}},
    {"mark": {"type": "rule", "color": "#c7c33b", "strokeWidth": 1.6}, "encoding": {"x": {"datum": 0.178}, "x2": {"datum": 0.24}, "y": {"datum": 126.7}}},
    {"mark": {"type": "text", "text": "5", "fontSize": 10, "align": "right", "dx": 10}, "encoding": {"x": {"datum": 0.25}, "y": {"datum": 193.3}}},
    {"mark": {"type": "text", "text": "10", "fontSize": 10, "align": "right", "dx": 10}, "encoding": {"x": {"datum": 0.25}, "y": {"datum": 180}}},
    {"mark": {"type": "text", "text": "15", "fontSize": 10, "align": "right", "dx": 10}, "encoding": {"x": {"datum": 0.25}, "y": {"datum": 166.7}}},
    {"mark": {"type": "text", "text": "20", "fontSize": 10, "align": "right", "dx": 10}, "encoding": {"x": {"datum": 0.25}, "y": {"datum": 153.3}}},
    {"mark": {"type": "text", "text": "25", "fontSize": 10, "align": "right", "dx": 10}, "encoding": {"x": {"datum": 0.25}, "y": {"datum": 140}}},
    {"mark": {"type": "text", "text": "30", "fontSize": 10, "align": "right", "dx": 10}, "encoding": {"x": {"datum": 0.25}, "y": {"datum": 126.7}}}
  ]},
  {"width": 69, "height": 1, "data": {"values": []}, "mark": "point"},
  {"width": 125, "height": 150, "data": {"name": "one"}, "layer": [
    {"data": {"name": "c2"}, "mark": {"type": "line", "strokeWidth": 1.6}, "encoding": {"x": {"field": "g", "type": "quantitative", "title": null, "scale": {"domain": [0, 0.25], "nice": false, "zero": false}, "axis": {"values": [0, 0.05, 0.1, 0.15, 0.2, 0.25], "labels": false, "tickSize": -3}}, "y": {"field": "v", "type": "quantitative", "title": null, "scale": {"domain": [0, 60], "nice": false, "zero": false}, "axis": {"values": [0, 10, 20, 30, 40, 50, 60], "labels": false, "tickSize": -3}}, "color": {"field": "G", "type": "ordinal", "scale": {"domain": [5, 10, 15, 20, 25, 30], "range": ["#2e4fa3", "#1e8b45", "#e8262c", "#20c4ce", "#a23cb0", "#c7c33b"]}, "legend": null}}},
    {"data": {"name": "c2"}, "mark": {"type": "errorbar", "ticks": {"size": 4}, "thickness": 1.2}, "encoding": {"x": {"field": "g", "type": "quantitative", "title": null}, "y": {"field": "lo", "type": "quantitative", "title": null}, "y2": {"field": "hi"}, "color": {"field": "G", "type": "ordinal", "legend": null}}},
    {"data": {"name": "xt"}, "mark": {"type": "text", "fontSize": 10, "dy": 9}, "encoding": {"x": {"field": "v", "type": "quantitative", "title": null}, "y": {"datum": 0}, "text": {"field": "l"}}},
    {"data": {"name": "yt2"}, "mark": {"type": "text", "fontSize": 10, "align": "right", "dx": -4}, "encoding": {"x": {"datum": 0}, "y": {"field": "v", "type": "quantitative", "title": null}, "text": {"field": "v", "type": "quantitative"}}},
    {"mark": {"type": "text", "text": "spikes/sniff", "fontSize": 13, "angle": 270}, "encoding": {"x": {"datum": -0.056}, "y": {"datum": 30}}},
    {"mark": {"type": "rule", "color": "black", "strokeWidth": 1.3, "strokeDash": [4, 3]}, "encoding": {"y": {"datum": 12}}},
    {"mark": {"type": "rule", "color": "black", "strokeWidth": 1.3}, "encoding": {"x": {"datum": 0.1}, "y": {"datum": 24.5}, "y2": {"datum": 18.5}}},
    {"mark": {"type": "point", "shape": "triangle-down", "size": 30, "filled": true, "color": "black", "opacity": 1}, "encoding": {"x": {"datum": 0.1}, "y": {"datum": 18}}},
    {"mark": {"type": "text", "text": "spike count", "fontSize": 12.5, "dy": -27}, "encoding": {"x": {"datum": 0.125}, "y": {"datum": 60}}},
    {"mark": {"type": "text", "text": "g", "fontSize": 13, "align": "right", "baseline": "alphabetic", "dy": 24}, "encoding": {"x": {"datum": 0.124}, "y": {"datum": 0}}},
    {"mark": {"type": "text", "text": "RI", "fontSize": 8, "align": "left", "baseline": "alphabetic", "dx": 0.5, "dy": 27}, "encoding": {"x": {"datum": 0.124}, "y": {"datum": 0}}}
  ]},
  {"width": 53, "height": 1, "data": {"values": []}, "mark": "point"},
  {"width": 125, "height": 150, "data": {"name": "one"}, "layer": [
    {"data": {"name": "c3"}, "mark": {"type": "line", "strokeWidth": 1.6}, "encoding": {"x": {"field": "g", "type": "quantitative", "title": null, "scale": {"domain": [0, 0.25], "nice": false, "zero": false}, "axis": {"values": [0, 0.05, 0.1, 0.15, 0.2, 0.25], "labels": false, "tickSize": -3}}, "y": {"field": "v", "type": "quantitative", "title": null, "scale": {"domain": [0, 350], "nice": false, "zero": false}, "axis": {"values": [0, 50, 100, 150, 200, 250, 300, 350], "labels": false, "tickSize": -3}}, "color": {"field": "G", "type": "ordinal", "scale": {"domain": [5, 10, 15, 20, 25, 30], "range": ["#2e4fa3", "#1e8b45", "#e8262c", "#20c4ce", "#a23cb0", "#c7c33b"]}, "legend": null}}},
    {"data": {"name": "c3"}, "mark": {"type": "errorbar", "ticks": {"size": 4}, "thickness": 1.2}, "encoding": {"x": {"field": "g", "type": "quantitative", "title": null}, "y": {"field": "lo", "type": "quantitative", "title": null}, "y2": {"field": "hi"}, "color": {"field": "G", "type": "ordinal", "legend": null}}},
    {"data": {"name": "xt"}, "mark": {"type": "text", "fontSize": 10, "dy": 9}, "encoding": {"x": {"field": "v", "type": "quantitative", "title": null}, "y": {"datum": 0}, "text": {"field": "l"}}},
    {"data": {"name": "yt3"}, "mark": {"type": "text", "fontSize": 10, "align": "right", "dx": -4}, "encoding": {"x": {"datum": 0}, "y": {"field": "v", "type": "quantitative", "title": null}, "text": {"field": "v", "type": "quantitative"}}},
    {"mark": {"type": "text", "text": "msec", "fontSize": 13, "angle": 270}, "encoding": {"x": {"datum": -0.07}, "y": {"datum": 175}}},
    {"mark": {"type": "rule", "color": "black", "strokeWidth": 1.3, "strokeDash": [4, 3]}, "encoding": {"y": {"datum": 120}}},
    {"mark": {"type": "rule", "color": "black", "strokeWidth": 1.3}, "encoding": {"x": {"datum": 0.1}, "y": {"datum": 236}, "y2": {"datum": 214}}},
    {"mark": {"type": "point", "shape": "triangle-down", "size": 30, "filled": true, "color": "black", "opacity": 1}, "encoding": {"x": {"datum": 0.1}, "y": {"datum": 212}}},
    {"mark": {"type": "text", "text": "duration", "fontSize": 12.5, "dy": -27}, "encoding": {"x": {"datum": 0.125}, "y": {"datum": 350}}},
    {"mark": {"type": "text", "text": "g", "fontSize": 13, "align": "right", "baseline": "alphabetic", "dy": 24}, "encoding": {"x": {"datum": 0.124}, "y": {"datum": 0}}},
    {"mark": {"type": "text", "text": "RI", "fontSize": 8, "align": "left", "baseline": "alphabetic", "dx": 0.5, "dy": 27}, "encoding": {"x": {"datum": 0.124}, "y": {"datum": 0}}}
  ]},
  {"width": 45, "height": 1, "data": {"values": []}, "mark": "point"},
  {"width": 125, "height": 150, "data": {"name": "one"}, "layer": [
    {"data": {"name": "c4"}, "mark": {"type": "line", "strokeWidth": 1.6}, "encoding": {"x": {"field": "g", "type": "quantitative", "title": null, "scale": {"domain": [0, 0.25], "nice": false, "zero": false}, "axis": {"values": [0, 0.05, 0.1, 0.15, 0.2, 0.25], "labels": false, "tickSize": -3}}, "y": {"field": "v", "type": "quantitative", "title": null, "scale": {"domain": [0, 100], "nice": false, "zero": false}, "axis": {"values": [0, 20, 40, 60, 80, 100], "labels": false, "tickSize": -3}}, "color": {"field": "G", "type": "ordinal", "scale": {"domain": [5, 10, 15, 20, 25, 30], "range": ["#2e4fa3", "#1e8b45", "#e8262c", "#20c4ce", "#a23cb0", "#c7c33b"]}, "legend": null}}},
    {"data": {"name": "c4"}, "mark": {"type": "errorbar", "ticks": {"size": 4}, "thickness": 1.2}, "encoding": {"x": {"field": "g", "type": "quantitative", "title": null}, "y": {"field": "lo", "type": "quantitative", "title": null}, "y2": {"field": "hi"}, "color": {"field": "G", "type": "ordinal", "legend": null}}},
    {"data": {"name": "xt"}, "mark": {"type": "text", "fontSize": 10, "dy": 9}, "encoding": {"x": {"field": "v", "type": "quantitative", "title": null}, "y": {"datum": 0}, "text": {"field": "l"}}},
    {"data": {"name": "yt4"}, "mark": {"type": "text", "fontSize": 10, "align": "right", "dx": -4}, "encoding": {"x": {"datum": 0}, "y": {"field": "v", "type": "quantitative", "title": null}, "text": {"field": "v", "type": "quantitative"}}},
    {"mark": {"type": "text", "text": "msec", "fontSize": 13, "angle": 270}, "encoding": {"x": {"datum": -0.046}, "y": {"datum": 50}}},
    {"mark": {"type": "rule", "color": "black", "strokeWidth": 1.3}, "encoding": {"x": {"datum": 0.1}, "y": {"datum": 88}, "y2": {"datum": 80}}},
    {"mark": {"type": "point", "shape": "triangle-down", "size": 30, "filled": true, "color": "black", "opacity": 1}, "encoding": {"x": {"datum": 0.1}, "y": {"datum": 79}}},
    {"mark": {"type": "text", "text": "latency", "fontSize": 12.5, "dy": -27}, "encoding": {"x": {"datum": 0.125}, "y": {"datum": 100}}},
    {"mark": {"type": "text", "text": "g", "fontSize": 13, "align": "right", "baseline": "alphabetic", "dy": 24}, "encoding": {"x": {"datum": 0.124}, "y": {"datum": 0}}},
    {"mark": {"type": "text", "text": "RI", "fontSize": 8, "align": "left", "baseline": "alphabetic", "dx": 0.5, "dy": 27}, "encoding": {"x": {"datum": 0.124}, "y": {"datum": 0}}}
  ]}
 ], "spacing": 0, "bounds": "flush"},
 {"hconcat": [
  {"width": 290, "height": 214, "data": {"name": "one"}, "resolve": {"scale": {"y": "independent"}}, "layer": [
    {"layer": [
      {"data": {"name": "raster"}, "mark": {"type": "tick", "orient": "vertical", "size": 2.6, "thickness": 1.6, "color": "black", "opacity": 1}, "encoding": {"x": {"field": "t", "type": "quantitative", "scale": {"domain": [-445.6, 1136.4], "nice": false, "zero": false}, "axis": null}, "y": {"field": "trial", "type": "quantitative", "scale": {"domain": [-5.31, 50.27], "reverse": true, "nice": false, "zero": false}, "axis": null}}},
      {"mark": {"type": "text", "text": "D", "fontSize": 17, "fontWeight": "bold", "align": "left"}, "encoding": {"x": {"datum": -434.7, "axis": null}, "y": {"datum": -0.64, "axis": null}}},
      {"mark": {"type": "text", "text": "MC outputs", "align": "left"}, "encoding": {"x": {"datum": -282, "axis": null}, "y": {"datum": 5.6, "axis": null}}},
      {"mark": {"type": "text", "text": "(model, spikes)", "fontSize": 10, "align": "left"}, "encoding": {"x": {"datum": -282, "axis": null}, "y": {"datum": 9.3, "axis": null}}}
    ]},
    {"layer": [
      {"mark": {"type": "rect", "opacity": 0}, "encoding": {"x": {"datum": -445.6, "axis": null}, "x2": {"datum": 1136.4}, "y": {"datum": -0.3518, "axis": null}, "y2": {"datum": 3.0236}}},
      {"data": {"name": "hist"}, "mark": {"type": "rect", "color": "#9a9a9a"}, "encoding": {"x": {"field": "t0", "type": "quantitative", "scale": {"domain": [-445.6, 1136.4], "nice": false, "zero": false}, "axis": null}, "x2": {"field": "t1"}, "y": {"field": "a", "type": "quantitative", "scale": {"domain": [-0.3518, 3.0236], "nice": false, "zero": false}, "axis": null}, "y2": {"datum": 0}}},
      {"data": {"name": "d_orn"}, "mark": {"type": "line", "color": "#2e3a92", "strokeWidth": 1.8}, "encoding": {"x": {"field": "t", "type": "quantitative", "axis": null}, "y": {"field": "a", "type": "quantitative", "axis": null}}},
      {"data": {"name": "d_exp"}, "mark": {"type": "line", "color": "#e9592b", "strokeWidth": 1.8}, "encoding": {"x": {"field": "t", "type": "quantitative", "axis": null}, "y": {"field": "a", "type": "quantitative", "axis": null}}},
      {"mark": {"type": "rule", "color": "#7083b8", "strokeWidth": 1.5}, "encoding": {"x": {"datum": 622, "axis": null}, "x2": {"datum": 822}, "y": {"datum": -0.105, "axis": null}}},
      {"mark": {"type": "text", "text": "200 ms", "fontSize": 11}, "encoding": {"x": {"datum": 722, "axis": null}, "y": {"datum": -0.26, "axis": null}}},
      {"mark": {"type": "text", "text": "Mean population", "align": "left"}, "encoding": {"x": {"datum": -292.9, "axis": null}, "y": {"datum": 1.084, "axis": null}}},
      {"mark": {"type": "text", "text": "signal", "align": "left"}, "encoding": {"x": {"datum": -292.9, "axis": null}, "y": {"datum": 0.845, "axis": null}}},
      {"mark": {"type": "text", "text": "ORN input", "fontSize": 12, "align": "left", "color": "#2e3192"}, "encoding": {"x": {"datum": 465, "axis": null}, "y": {"datum": 0.845, "axis": null}}},
      {"mark": {"type": "text", "text": "MC spikes (model)", "fontSize": 12, "align": "left", "color": "#9a9a9a"}, "encoding": {"x": {"datum": 481.6, "axis": null}, "y": {"datum": 0.626, "axis": null}}},
      {"mark": {"type": "text", "text": "MC spikes (exp.)", "fontSize": 12, "align": "left", "color": "#ef5a28"}, "encoding": {"x": {"datum": 552.5, "axis": null}, "y": {"datum": 0.39, "axis": null}}}
    ]}
  ]},
  {"width": 300, "height": 214, "data": {"name": "one"}, "layer": [
    {"data": {"name": "e_exp"}, "mark": {"type": "area", "color": "#f5a28b", "opacity": 1}, "encoding": {"x": {"field": "t", "type": "quantitative", "scale": {"domain": [-180, 720], "nice": false, "zero": false}, "axis": null}, "y": {"field": "hi", "type": "quantitative", "scale": {"domain": [-215.9, 185.9], "nice": false, "zero": false}, "axis": null}, "y2": {"field": "lo"}}},
    {"data": {"name": "e_model"}, "mark": {"type": "area", "color": "#62bfe8", "opacity": 0.55}, "encoding": {"x": {"field": "t", "type": "quantitative", "axis": null}, "y": {"field": "hi", "type": "quantitative", "axis": null}, "y2": {"field": "lo"}}},
    {"data": {"name": "e_lines"}, "mark": {"type": "line", "color": "#2d4b9b", "strokeWidth": 1.2}, "encoding": {"x": {"field": "t", "type": "quantitative", "axis": null}, "y": {"field": "r", "type": "quantitative", "axis": null}, "detail": {"field": "s"}}},
    {"mark": {"type": "rect", "color": "#8fd3f1"}, "encoding": {"x": {"datum": 390, "axis": null}, "x2": {"datum": 441}, "y": {"datum": 105, "axis": null}, "y2": {"datum": 117}}},
    {"mark": {"type": "rect", "color": "#f5a28b"}, "encoding": {"x": {"datum": 390, "axis": null}, "x2": {"datum": 441}, "y": {"datum": 74, "axis": null}, "y2": {"datum": 88}}},
    {"mark": {"type": "text", "text": "E", "fontSize": 17, "fontWeight": "bold", "align": "left"}, "encoding": {"x": {"datum": -156, "axis": null}, "y": {"datum": 144.6, "axis": null}}},
    {"mark": {"type": "text", "text": "MC firing rate", "align": "left"}, "encoding": {"x": {"datum": -45, "axis": null}, "y": {"datum": 142.7, "axis": null}}},
    {"mark": {"type": "text", "text": "model", "align": "left"}, "encoding": {"x": {"datum": 445, "axis": null}, "y": {"datum": 110.8, "axis": null}}},
    {"mark": {"type": "text", "text": "experimental", "align": "left"}, "encoding": {"x": {"datum": 445, "axis": null}, "y": {"datum": 80.7, "axis": null}}},
    {"mark": {"type": "rule", "color": "black", "strokeWidth": 1.5}, "encoding": {"x": {"datum": -25, "axis": null}, "y": {"datum": 0, "axis": null}, "y2": {"datum": 92}}},
    {"mark": {"type": "text", "text": "92 sp/s", "fontSize": 9.5, "align": "right"}, "encoding": {"x": {"datum": -38, "axis": null}, "y": {"datum": 40, "axis": null}}},
    {"mark": {"type": "rule", "color": "#555555", "strokeWidth": 1.3}, "encoding": {"x": {"datum": 445, "axis": null}, "x2": {"datum": 645}, "y": {"datum": -25, "axis": null}}},
    {"mark": {"type": "text", "text": "200 ms", "fontSize": 10}, "encoding": {"x": {"datum": 545, "axis": null}, "y": {"datum": -41.3, "axis": null}}},
    {"mark": {"type": "text", "text": "g", "fontSize": 14, "align": "left", "baseline": "alphabetic"}, "encoding": {"x": {"datum": -55, "axis": null}, "y": {"datum": -97.6, "axis": null}}},
    {"mark": {"type": "text", "text": "RI", "fontSize": 8, "align": "left", "baseline": "alphabetic"}, "encoding": {"x": {"datum": -30, "axis": null}, "y": {"datum": -103.3, "axis": null}}},
    {"mark": {"type": "text", "text": "= 0.10", "fontSize": 14, "align": "left", "baseline": "alphabetic"}, "encoding": {"x": {"datum": 0, "axis": null}, "y": {"datum": -97.6, "axis": null}}},
    {"mark": {"type": "text", "text": "G[ORN-MC] = 15", "fontSize": 13.5, "align": "left"}, "encoding": {"x": {"datum": -54, "axis": null}, "y": {"datum": -129.6, "axis": null}}}
  ]}
 ], "spacing": 0, "bounds": "flush"}
]
}
